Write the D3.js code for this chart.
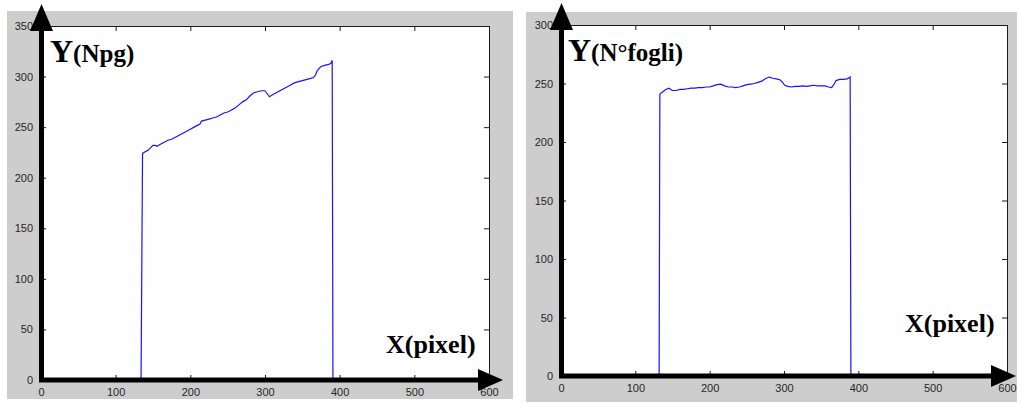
<!DOCTYPE html>
<html>
<head>
<meta charset="utf-8">
<script src="https://cdn.jsdelivr.net/npm/d3@7"></script>
<style>
  html, body { margin: 0; padding: 0; background: #ffffff; }
  svg { display: block; }
</style>
</head>
<body>
<svg id="chart" width="1021" height="404"></svg>
<script>
// Profile of page count (Npg) along the pixel column
const npgX = [0, 134, 135, 136, 140, 143, 146, 150, 153, 155, 160, 165, 170, 175, 180, 185, 190, 195, 200, 205, 210, 213, 215, 220, 225, 230, 235, 240, 245, 250, 255, 260, 265, 270, 275, 280, 285, 290, 295, 300, 303, 306, 310, 315, 320, 325, 330, 335, 340, 345, 350, 355, 360, 365, 368, 370, 375, 380, 385, 388, 390, 390.5, 391, 600];
const npgY = [0, 0, 112, 224, 226, 227, 229, 232, 232, 231, 233, 235, 237, 238, 240, 242, 244, 246, 248, 250, 252, 253, 256, 257, 258, 259, 260, 262, 264, 265, 267, 269, 272, 275, 277, 281, 284, 285, 286, 286, 283, 280, 282, 284, 286, 288, 290, 292, 294, 295, 296, 297, 298, 299, 302, 306, 310, 311, 312, 313, 316, 160, 0, 0];

// Profile of sheet count (N°fogli) along the pixel column
const fogliX = [0, 132, 132.5, 133, 137, 140, 145, 150, 155, 160, 165, 170, 175, 180, 185, 190, 195, 200, 205, 210, 215, 220, 225, 230, 235, 240, 245, 250, 255, 260, 265, 270, 275, 280, 285, 290, 295, 298, 301, 305, 310, 315, 320, 325, 330, 335, 340, 345, 350, 355, 360, 364, 367, 370, 375, 380, 385, 389, 389.5, 390, 600];
const fogliY = [0, 0, 120, 241, 243, 244.5, 246, 244, 244, 245, 245, 245.5, 246, 246, 246.5, 246.5, 247, 247, 248, 249, 249.5, 248, 247, 247, 246.5, 247, 248, 249, 249.5, 250, 251, 252, 254, 255.5, 254.5, 254, 253, 251, 248.5, 247.5, 247, 247.5, 247.5, 248, 247.5, 248, 248.5, 248, 248, 248, 247, 246.5, 249, 252.5, 253.5, 253.5, 254, 255.5, 126, 0, 0];

// Axis ticks
const xTicks = [0, 100, 200, 300, 400, 500, 600];
const npgTicks = [0, 50, 100, 150, 200, 250, 300, 350];
const fogliTicks = [0, 50, 100, 150, 200, 250, 300];

// Axis titles
const npgTitle = ["Y", "(Npg)"];
const fogliTitle = ["Y", "(N°fogli)"];
const xTitle = ["X", "(pixel)"];

const svg = d3.select("#chart");

const panels = [
  {
    bg: { x: 7, y: 11, w: 506, h: 388 },
    box: { x0: 41, x1: 489, y0: 26, y1: 380 },
    xs: npgX, ys: npgY, yTicks: npgTicks, yMax: 350,
    yTitle: npgTitle, yTitlePos: [50, 62],
    xTitlePos: [386, 353],
    arrowX: 503, arrowY: 4
  },
  {
    bg: { x: 526, y: 12, w: 491, h: 390 },
    box: { x0: 561, x1: 1007, y0: 25, y1: 376 },
    xs: fogliX, ys: fogliY, yTicks: fogliTicks, yMax: 300,
    yTitle: fogliTitle, yTitlePos: [568, 61],
    xTitlePos: [905, 332],
    arrowX: 1016, arrowY: 3
  }
];

panels.forEach(p => {
  const g = svg.append("g");
  const b = p.box;

  // figure background
  g.append("rect")
    .attr("x", p.bg.x).attr("y", p.bg.y)
    .attr("width", p.bg.w).attr("height", p.bg.h)
    .attr("fill", "#cdcdcd");

  // plotting area
  g.append("rect")
    .attr("x", b.x0).attr("y", b.y0)
    .attr("width", b.x1 - b.x0).attr("height", b.y1 - b.y0)
    .attr("fill", "#fefefe");

  const x = d3.scaleLinear().domain([0, 600]).range([b.x0, b.x1]);
  const y = d3.scaleLinear().domain([0, p.yMax]).range([b.y1, b.y0]);

  const tickFont = "'Liberation Sans', Arial, sans-serif";

  // bottom and top axes, ticks pointing inward
  const bottom = g.append("g")
    .attr("transform", `translate(0,${b.y1})`)
    .call(d3.axisBottom(x).tickValues(xTicks).tickSize(-5).tickPadding(8).tickFormat(d3.format("d")));
  const top = g.append("g")
    .attr("transform", `translate(0,${b.y0})`)
    .call(d3.axisTop(x).tickValues(xTicks).tickSize(-5).tickFormat(""));
  const left = g.append("g")
    .attr("transform", `translate(${b.x0},0)`)
    .call(d3.axisLeft(y).tickValues(p.yTicks).tickSize(-5).tickPadding(8).tickFormat(d3.format("d")));
  const right = g.append("g")
    .attr("transform", `translate(${b.x1},0)`)
    .call(d3.axisRight(y).tickValues(p.yTicks).tickSize(-5).tickFormat(""));

  [bottom, top, left, right].forEach(a => {
    a.select(".domain").attr("stroke", "#1a1a1a").attr("stroke-width", 1);
    a.selectAll(".tick line").attr("stroke", "#1a1a1a");
    a.selectAll("text")
      .attr("font-family", tickFont)
      .attr("font-size", 11)
      .attr("fill", "#262626");
  });

  // profile line
  const pts = p.xs.map((v, i) => [v, p.ys[i]]);
  const line = d3.line().x(d => x(d[0])).y(d => y(d[1]));
  g.append("path")
    .datum(pts)
    .attr("d", line)
    .attr("fill", "none")
    .attr("stroke", "#1414ff")
    .attr("stroke-width", 1.2);

  // heavy arrow axes
  const ax = b.x0 + 0.5;
  g.append("line")
    .attr("x1", ax).attr("y1", b.y1 + 2)
    .attr("x2", ax).attr("y2", 28)
    .attr("stroke", "#000").attr("stroke-width", 5);
  g.append("path")
    .attr("d", `M${ax},${p.arrowY} L${ax - 11.5},${b.y0 + 5} L${ax + 11.5},${b.y0 + 5} Z`)
    .attr("fill", "#000");
  g.append("line")
    .attr("x1", b.x0 - 2).attr("y1", b.y1)
    .attr("x2", p.arrowX - 22).attr("y2", b.y1)
    .attr("stroke", "#000").attr("stroke-width", 5);
  g.append("path")
    .attr("d", `M${p.arrowX},${b.y1} L${p.arrowX - 25},${b.y1 - 11} L${p.arrowX - 25},${b.y1 + 11} Z`)
    .attr("fill", "#000");

  // axis titles
  const serif = "'Liberation Serif', 'Times New Roman', serif";
  const yt = g.append("text")
    .attr("x", p.yTitlePos[0]).attr("y", p.yTitlePos[1])
    .attr("font-family", serif).attr("font-weight", "bold").attr("fill", "#000");
  yt.append("tspan").attr("font-size", 32).text(p.yTitle[0]);
  yt.append("tspan").attr("font-size", 25).text(p.yTitle[1]);

  const xt = g.append("text")
    .attr("x", p.xTitlePos[0]).attr("y", p.xTitlePos[1])
    .attr("font-family", serif).attr("font-weight", "bold").attr("fill", "#000");
  xt.append("tspan").attr("font-size", 26).text(xTitle[0]);
  xt.append("tspan").attr("font-size", 26).text(xTitle[1]);
});
</script>
</body>
</html>
